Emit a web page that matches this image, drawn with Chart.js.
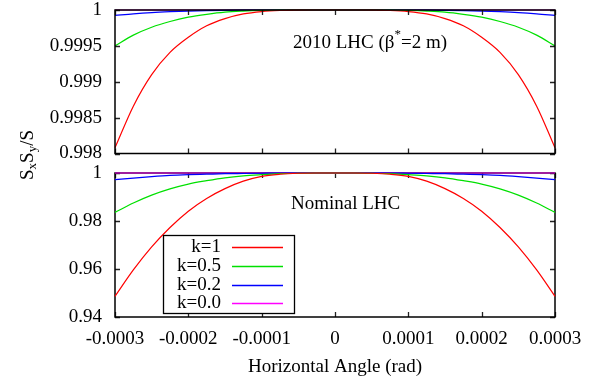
<!DOCTYPE html>
<html>
<head>
<meta charset="utf-8">
<script src="https://cdn.jsdelivr.net/npm/chart.js@4/dist/chart.umd.min.js"></script>
<style>
html,body{margin:0;padding:0;background:#fff;}
#wrap{position:relative;width:604px;height:383px;}
#wrap canvas{position:absolute;left:0;top:0;}
</style>
</head>
<body>
<div id="wrap">
	<canvas id="top-chart" width="604" height="383"></canvas>
	<canvas id="bottom-chart" width="604" height="383"></canvas>
</div>
<script>
// horizontal crossing angle (rad)
const angles = [-0.0003,-0.000275,-0.00025,-0.000225,-0.0002,-0.000175,-0.00015,-0.000125,-0.0001,-0.000075,-0.00005,-0.000025,0,
	0.000025,0.00005,0.000075,0.0001,0.000125,0.00015,0.000175,0.0002,0.000225,0.00025,0.000275,0.0003];

const seriesLabels = ['k=1','k=0.5','k=0.2','k=0.0'];
const seriesColors = ['#ff0000','#00e000','#0000ff','#ff00ff'];

// 2010 LHC (beta*=2 m)
const topK1  = [0.99808,0.99866,0.99910,0.99941,0.99962,0.99978,0.99988,0.999945,0.999978,0.999993,0.9999985,1,1,
	1,0.9999985,0.999993,0.999978,0.999945,0.99988,0.99978,0.99962,0.99941,0.99910,0.99866,0.99808];
const topK05 = [0.99950,0.99965,0.99976,0.99984,0.99990,0.99994,0.99997,0.999985,0.999994,0.999998,1,1,1,
	1,1,0.999998,0.999994,0.999985,0.99997,0.99994,0.99990,0.99984,0.99976,0.99965,0.99950];
const topK02 = [0.999925,0.999947,0.999964,0.999976,0.999985,0.999991,0.999995,0.999998,0.999999,1,1,1,1,
	1,1,1,0.999999,0.999998,0.999995,0.999991,0.999985,0.999976,0.999964,0.999947,0.999925];
const topK0  = [1,1,1,1,1,1,1,1,1,1,1,1,1,1,1,1,1,1,1,1,1,1,1,1,1];

// Nominal LHC
const botK1  = [0.9486,0.9596,0.9692,0.9773,0.9841,0.9894,0.9935,0.9966,0.9986,0.9995,0.9999,1,1,
	1,0.9999,0.9995,0.9986,0.9966,0.9935,0.9894,0.9841,0.9773,0.9692,0.9596,0.9486];
const botK05 = [0.9836,0.9875,0.9908,0.9934,0.9954,0.9968,0.9980,0.9988,0.9993,0.9997,0.9999,1,1,
	1,0.9999,0.9997,0.9993,0.9988,0.9980,0.9968,0.9954,0.9934,0.9908,0.9875,0.9836];
const botK02 = [0.9972,0.9979,0.9985,0.9990,0.9993,0.9995,0.9997,0.9998,0.9999,1,1,1,1,
	1,1,1,0.9999,0.9998,0.9997,0.9995,0.9993,0.9990,0.9985,0.9979,0.9972];
const botK0  = [1,1,1,1,1,1,1,1,1,1,1,1,1,1,1,1,1,1,1,1,1,1,1,1,1];

// ticks
const xTickValues = [-0.0003,-0.0002,-0.0001,0,0.0001,0.0002,0.0003];
const xTickLabels = ['-0.0003','-0.0002','-0.0001','0','0.0001','0.0002','0.0003'];
const topTickValues = [0.998,0.9985,0.999,0.9995,1];
const topTickLabels = ['0.998','0.9985','0.999','0.9995','1'];
const botTickValues = [0.94,0.96,0.98,1];
const botTickLabels = ['0.94','0.96','0.98','1'];

const FONT = "'Liberation Serif', 'Times New Roman', serif";
const tickFont = {family: FONT, size: 19};
Chart.defaults.font.family = FONT;
Chart.defaults.font.size = 19;
Chart.defaults.color = '#000';

function makeDatasets(series){
	return series.map((vals,i)=>({
		label: seriesLabels[i],
		data: vals.map((v,j)=>({x: angles[j], y: v})),
		borderColor: seriesColors[i],
		borderWidth: 1.2,
		pointRadius: 0,
		cubicInterpolationMode: 'monotone',
		clip: false
	}));
}

// gnuplot style frame with inward ticks on all sides
function drawFrame(chart){
	const {ctx, chartArea:a, scales} = chart;
	ctx.save();
	ctx.strokeStyle = '#222';
	ctx.lineWidth = 1.3;
	ctx.beginPath();
	scales.x.ticks.forEach(t=>{
		const px = Math.round(scales.x.getPixelForValue(t.value)) + 0.5;
		ctx.moveTo(px, a.bottom); ctx.lineTo(px, a.bottom - 5);
		ctx.moveTo(px, a.top); ctx.lineTo(px, a.top + 5);
	});
	scales.y.ticks.forEach(t=>{
		const py = Math.round(scales.y.getPixelForValue(t.value)) + 0.5;
		ctx.moveTo(a.left, py); ctx.lineTo(a.left + 5, py);
		ctx.moveTo(a.right, py); ctx.lineTo(a.right - 5, py);
	});
	ctx.stroke();
	ctx.strokeStyle = '#000';
	ctx.lineWidth = 1.5;
	ctx.strokeRect(a.left, a.top, a.right - a.left, a.bottom - a.top);
	ctx.restore();
}
const frameAfter = {id: 'frameAfter', afterDatasetsDraw: drawFrame};
const frameBefore = {id: 'frameBefore', beforeDatasetsDraw: drawFrame};

function textParts(ctx, x, y, parts){
	// parts: [text, size, dy]
	let cx = x;
	parts.forEach(p=>{
		ctx.font = p[1] + 'px ' + FONT;
		ctx.fillText(p[0], cx, y + p[2]);
		cx += ctx.measureText(p[0]).width;
	});
}

const topNotes = {
	id: 'topNotes',
	afterDraw(chart){
		const ctx = chart.ctx;
		ctx.save();
		ctx.fillStyle = '#000';
		ctx.textBaseline = 'alphabetic';
		textParts(ctx, 293, 48, [['2010 LHC (\u03b2',19,0],['*',13,-10],['=2 m)',19,0]]);

		// y title, rotated
		ctx.translate(28, 155);
		ctx.rotate(-Math.PI/2);
		ctx.textBaseline = 'middle';
		ctx.font = '19px ' + FONT;
		const w = ctx.measureText('S').width*3 + ctx.measureText('/').width;
		ctx.font = '13px ' + FONT;
		const ws = ctx.measureText('x').width + ctx.measureText('y').width;
		textParts(ctx, -(w + ws)/2, 0, [['S',19,0],['x',13,5],['S',19,0],['y',13,5],['/S',19,0]]);
		ctx.restore();
	}
};

const bottomNotes = {
	id: 'bottomNotes',
	afterDraw(chart){
		const ctx = chart.ctx;
		ctx.save();
		ctx.fillStyle = '#000';
		ctx.font = '19px ' + FONT;
		ctx.textBaseline = 'alphabetic';
		ctx.fillText('Nominal LHC', 291, 209);

		// legend box
		const bx = 163.5, by = 235.5, bw = 131, bh = 78;
		ctx.fillStyle = '#fff';
		ctx.fillRect(bx, by, bw, bh);
		ctx.strokeStyle = '#000';
		ctx.lineWidth = 1.3;
		ctx.strokeRect(bx, by, bw, bh);
		ctx.textAlign = 'right';
		ctx.textBaseline = 'middle';
		seriesLabels.forEach((lab,i)=>{
			const ry = 247 + i*18.8;
			ctx.fillStyle = '#000';
			ctx.fillText(lab, 221, ry);
			ctx.strokeStyle = seriesColors[i];
			ctx.lineWidth = 1.5;
			ctx.beginPath();
			ctx.moveTo(232, Math.round(ry) + 0.5);
			ctx.lineTo(283, Math.round(ry) + 0.5);
			ctx.stroke();
		});
		ctx.restore();
	}
};

function yScale(min, max, values, labels){
	return {
		type: 'linear', min: min, max: max,
		grid: {display: false, drawTicks: false},
		border: {display: false},
		afterBuildTicks: s=>{ s.ticks = values.map(v=>({value: v})); },
		afterFit: s=>{ s.width = 115; s.paddingTop = 0; s.paddingBottom = 0; },
		ticks: {padding: 13, autoSkip: false, font: tickFont, color: '#000', callback: (v,i)=>labels[i]}
	};
}

new Chart(document.getElementById('top-chart'), {
	type: 'line',
	data: {datasets: makeDatasets([topK1, topK05, topK02, topK0])},
	options: {
		responsive: false, animation: false,
		layout: {padding: {top: 10, right: 49, bottom: 229.5, left: 0}},
		plugins: {legend: {display: false}, tooltip: {enabled: false}},
		scales: {
			x: {
				type: 'linear', min: -0.0003, max: 0.0003, display: false,
				afterBuildTicks: s=>{ s.ticks = xTickValues.map(v=>({value: v})); }
			},
			y: yScale(0.998, 1, topTickValues, topTickLabels)
		}
	},
	plugins: [frameAfter, topNotes]
});

new Chart(document.getElementById('bottom-chart'), {
	type: 'line',
	data: {datasets: makeDatasets([botK1, botK05, botK02, botK0])},
	options: {
		responsive: false, animation: false,
		layout: {padding: {top: 173, right: 49, bottom: 0, left: 0}},
		plugins: {legend: {display: false}, tooltip: {enabled: false}},
		scales: {
			x: {
				type: 'linear', min: -0.0003, max: 0.0003,
				grid: {display: false, drawTicks: false},
				border: {display: false},
				afterBuildTicks: s=>{ s.ticks = xTickValues.map(v=>({value: v})); },
				afterFit: s=>{ s.height = 66; s.paddingLeft = 0; s.paddingRight = 0; },
				ticks: {padding: 11, autoSkip: false, maxRotation: 0, font: tickFont, color: '#000', callback: (v,i)=>xTickLabels[i]},
				title: {display: true, text: 'Horizontal Angle (rad)', font: tickFont, color: '#000', padding: {top: 0, bottom: 5}}
			},
			y: yScale(0.94, 1, botTickValues, botTickLabels)
		}
	},
	plugins: [frameBefore, bottomNotes]
});
</script>
</body>
</html>
